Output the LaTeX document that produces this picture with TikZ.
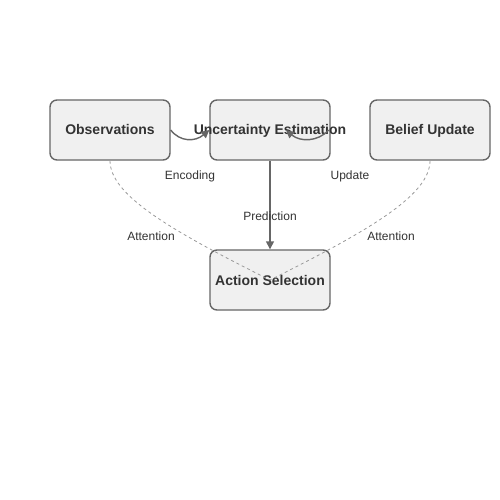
\documentclass[tikz,border=0pt]{standalone}
\usepackage{fontspec}
\setmainfont{Liberation Sans}
\usetikzlibrary{arrows.meta}
\definecolor{boxfill}{HTML}{F0F0F0}
\definecolor{boxline}{HTML}{666666}
\definecolor{txt}{HTML}{333333}
\definecolor{dashline}{HTML}{999999}
\tikzset{box/.style={rectangle, rounded corners=7pt, draw=boxline, fill=boxfill, line width=1.4pt,
   minimum width=120pt, minimum height=60pt, inner sep=0pt}}
\tikzset{boxtext/.style={text=txt, font=\bfseries\fontsize{14}{16}\selectfont, inner sep=0pt,
   text height=12pt, text depth=2pt}}
\tikzset{lbl/.style={text=txt, font=\fontsize{12}{14}\selectfont, inner sep=0pt}}
\tikzset{flow/.style={draw=boxline, line width=1.4pt, -{Triangle[length=8pt,width=8pt]}}}
\tikzset{attn/.style={draw=dashline, dashed, line width=0.8pt}}

\begin{document}
\begin{tikzpicture}[x=1pt, y=-1pt]

    \useasboundingbox (0,0) rectangle (500,500);

    \node[box, label={[boxtext]center:Observations}] (obs) at (110,130) {};
    \node[box, label={[boxtext]center:Uncertainty Estimation}] (ue) at (270,130) {};
    \node[box, label={[boxtext]center:Belief Update}] (bu) at (430,130) {};
    \node[box, label={[boxtext]center:Action Selection}] (act) at (270,280) {};

    \coordinate (updEnd) at (286,130);

    \draw[flow] (obs.east) .. controls (180,142) and (195,142) .. (ue.west);
    \draw[flow] ([xshift=-2pt]ue.east) .. controls (318,142) and (300,142) .. (updEnd);
    \draw[flow] (ue.south) -- (act.north);
    \draw[attn] (obs.south) .. controls (110,195) and (170,230) .. (act.center);
    \draw[attn] (bu.south) .. controls (430,195) and (370,230) .. (act.center);

    \node[lbl] (encLbl) at (190,176) {Encoding};
    \node[lbl] (updLbl) at (350,176) {Update};
    \node[lbl] (predLbl) at (270,216) {Prediction};
    \node[lbl] (attnL) at (151,236) {Attention};
    \node[lbl] (attnR) at (391,236) {Attention};

\end{tikzpicture}
\end{document}
